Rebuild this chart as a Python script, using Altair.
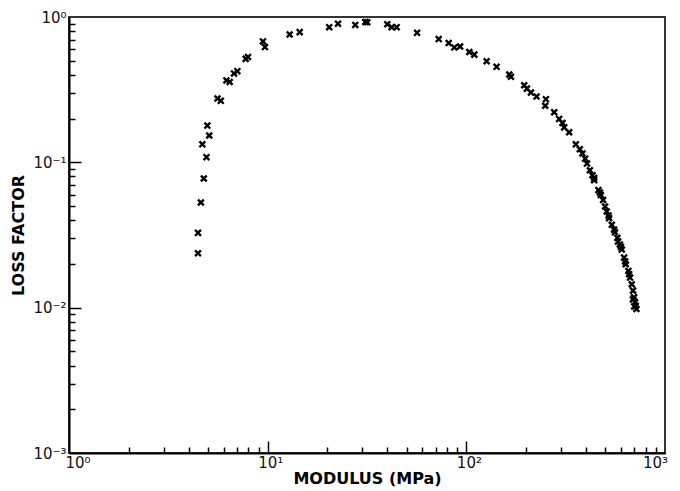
import altair as alt
import pandas as pd

# Data (modulus in MPa, loss factor)
modulus = [4.46, 4.46, 4.61, 4.77, 4.92, 4.69, 5.08, 4.97, 5.59, 5.81, 6.20, 6.44, 6.77, 7.04,
           7.75, 7.96, 9.47, 9.69, 12.9, 14.5, 20.4, 22.6, 27.6, 31.0, 31.7, 40.0, 42.1, 44.6,
           56.5, 72.6,
           81.5, 87.0, 93.0, 103.5, 109.7, 126.5, 142, 164.5, 167.7, 195.6, 201.8, 211.4, 225.6,
           251.5, 249.5, 276.8, 293.3, 304.7, 310.8, 329.3, 355.8, 372.7, 384.1, 396.3, 418.5,
           431.3, 439.8, 462.2, 475.2, 488, 499.4, 509.3, 523.1, 539.8, 554.3, 575.9, 592.1,
           606, 622.3, 634.6, 654, 667, 680.3, 690.6, 698.6, 706.8, 712.6,
           690, 718, 700, 520, 470, 580, 630, 600, 440, 405, 560, 660]
loss = [0.0237, 0.0327, 0.0529, 0.0774, 0.1085, 0.133, 0.153, 0.179, 0.275, 0.265, 0.366, 0.357,
        0.409, 0.424, 0.515, 0.531, 0.679, 0.621, 0.758, 0.787, 0.851, 0.900, 0.882, 0.924, 0.920,
        0.892, 0.851, 0.851, 0.778, 0.705,
        0.662, 0.6175, 0.627, 0.574, 0.551, 0.496, 0.454, 0.402, 0.388, 0.339, 0.3215, 0.302,
        0.284, 0.272, 0.245, 0.221, 0.199, 0.1865, 0.174, 0.161, 0.133, 0.123, 0.115, 0.106,
        0.0882, 0.0815, 0.0754, 0.0644, 0.0596, 0.0551, 0.0497, 0.0459, 0.0413, 0.0372, 0.0344,
        0.0302, 0.0272, 0.0251, 0.0221, 0.0199, 0.0179, 0.0161, 0.0145, 0.0131, 0.0118, 0.0109,
        0.0103,
        0.0114, 0.0098, 0.0102, 0.0430, 0.0620, 0.0285, 0.0208, 0.0262, 0.0780, 0.098, 0.033,
        0.0170]

x_major = [10, 100]
x_minor = [2, 3, 4, 5, 6, 7, 8, 9, 20, 30, 40, 50, 60, 70, 80, 90,
           200, 300, 400, 500, 600, 700, 800, 900]
y_major = [0.01, 0.1]
y_minor = [0.002, 0.003, 0.004, 0.005, 0.006, 0.007, 0.008, 0.009,
           0.02, 0.03, 0.04, 0.05, 0.06, 0.07, 0.08, 0.09,
           0.2, 0.3, 0.4, 0.5, 0.6, 0.7, 0.8, 0.9]

W, H = 596, 436
FONT = "DejaVu Sans"

xscale = alt.Scale(type="log", domain=[1, 1000], nice=False)
yscale = alt.Scale(type="log", domain=[0.001, 1], nice=False)

df = pd.DataFrame({"modulus": modulus, "loss": loss})

x_lab = ("datum.value == 1 ? '10⁰' : datum.value == 10 ? '10¹' : "
         "datum.value == 100 ? '10²' : '10³'")
y_lab = ("datum.value >= 0.99 ? '10⁰' : datum.value >= 0.099 ? '10⁻¹' : "
         "datum.value >= 0.0099 ? '10⁻²' : '10⁻³'")

x_axis = alt.Axis(values=[1, 10, 100, 1000], labelExpr=x_lab, ticks=False,
                  grid=False, domainColor="black", domainWidth=2,
                  labelFont=FONT, labelFontSize=15, labelColor="#111",
                  labelAlign={"condition": {"test": "datum.value == 1000", "value": "center"},
                              "value": "left"},
                  labelOffset={"condition": {"test": "datum.value == 1", "value": -4},
                               "value": -10},
                  labelPadding=2, labelFlush=False,
                  title="MODULUS (MPa)", titleFont=FONT, titleFontSize=16,
                  titleFontWeight="bold", titleColor="black", titlePadding=0)
y_axis = alt.Axis(values=[0.001, 0.01, 0.1, 1], labelExpr=y_lab, ticks=False,
                  grid=False, domainColor="black", domainWidth=2,
                  labelFont=FONT, labelFontSize=15, labelColor="#111",
                  labelPadding=3, labelFlush=False,
                  title="LOSS FACTOR", titleFont=FONT, titleFontSize=16,
                  titleFontWeight="bold", titleColor="black", titlePadding=6)

# inward tick axes: a "top" axis moved down onto the bottom edge, and a
# "right" axis moved onto the left edge, so their ticks point into the plot
xtick_axis = alt.Axis(orient="top", offset=-H, values=x_minor + x_major,
                      labels=False, domain=False, grid=False, title=None,
                      tickColor="black", tickWidth=1.5,
                      tickSize={"condition": {"test": "datum.value == 10 || datum.value == 100",
                                              "value": 12}, "value": 6})
ytick_axis = alt.Axis(orient="right", offset=-W, values=y_minor + y_major,
                      labels=False, domain=False, grid=False, title=None,
                      tickColor="black", tickWidth=1.5,
                      tickSize={"condition": {"test": "datum.value > 0.0099 && datum.value < 0.0101 || datum.value > 0.099 && datum.value < 0.101",
                                              "value": 12}, "value": 6})

points = alt.Chart(df).mark_point(
    shape="M-1,-1L1,1M-1,1L1,-1", filled=False, stroke="black",
    strokeWidth=2.4, size=34, opacity=1
).encode(
    x=alt.X("modulus:Q", scale=xscale, axis=x_axis),
    y=alt.Y("loss:Q", scale=yscale, axis=y_axis),
)

xt_layer = alt.Chart(pd.DataFrame({"v": x_minor + x_major})).mark_point(opacity=0).encode(
    x=alt.X("v:Q", scale=xscale, axis=xtick_axis))
yt_layer = alt.Chart(pd.DataFrame({"w": y_minor + y_major})).mark_point(opacity=0).encode(
    y=alt.Y("w:Q", scale=yscale, axis=ytick_axis))

chart = alt.layer(
    points, xt_layer, yt_layer,
).resolve_axis(
    x="independent", y="independent"
).properties(
    width=W, height=H,
    autosize=alt.AutoSizeParams(type="none"),
    padding={"left": 61, "top": 9, "right": 7, "bottom": 38},
).configure(
    background="white",
    view=alt.ViewConfig(stroke="#333", strokeWidth=2),
)

chart.save("out.html", embed_options={"renderer": "svg", "actions": False})
